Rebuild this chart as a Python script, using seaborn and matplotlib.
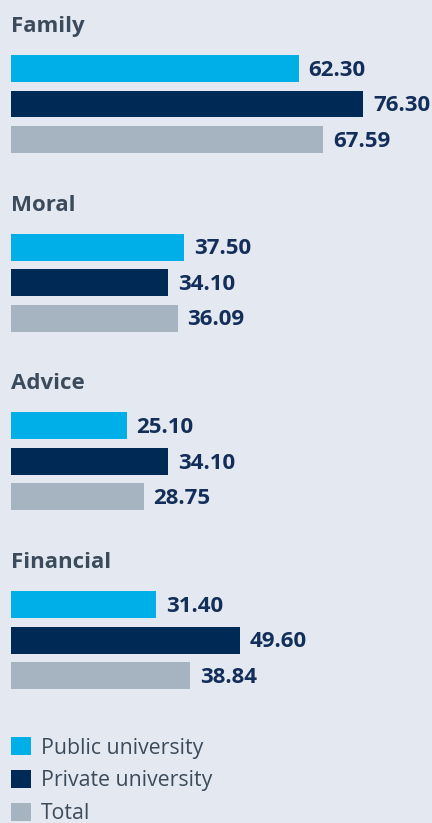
import matplotlib
matplotlib.use("Agg")
import matplotlib.pyplot as plt
from matplotlib.patches import Patch
import seaborn as sns
import pandas as pd

categories = ["Family", "Moral", "Advice", "Financial"]
series = ["Public university", "Private university", "Total"]
public = [62.30, 37.50, 25.10, 31.40]
private = [76.30, 34.10, 34.10, 49.60]
total = [67.59, 36.09, 28.75, 38.84]

colors = ["#00AEE8", "#002A56", "#A6B3C1"]
bg = "#E4E9F1"
title_color = "#3C4B5B"
value_color = "#142E5A"

sns.set_theme(style="white")
plt.rcParams["font.family"] = ["Open Sans", "DejaVu Sans"]

rows = []
for i, c in enumerate(categories):
    for s, vals in zip(series, [public, private, total]):
        rows.append({"category": c, "series": s, "value": vals[i]})
df = pd.DataFrame(rows)

W, H = 432, 823
fig = plt.figure(figsize=(W / 100, H / 100), dpi=100)
fig.patch.set_facecolor(bg)

scale = 4.617  # px per unit
x0 = 11
group_pitch = 178.7
slot = 35.5
first_center = 68.5

for i, c in enumerate(categories):
    top = first_center - slot / 2 + i * group_pitch
    h = 3 * slot
    ax = fig.add_axes([x0 / W, 1 - (top + h) / H, (W - x0) / W, h / H])
    sub = df[df["category"] == c]
    sns.barplot(data=sub, x="value", y="series", hue="series", order=series,
                hue_order=series, palette=colors, orient="h", width=0.76,
                legend=False, ax=ax, saturation=1, edgecolor="none",
                linewidth=0)
    ax.set_xlim(0, (W - x0) / scale)
    ax.set_ylim(2.5, -0.5)
    ax.set_facecolor("none")
    for sp in ax.spines.values():
        sp.set_visible(False)
    ax.set_xticks([])
    ax.set_yticks([])
    ax.set_xlabel("")
    ax.set_ylabel("")
    for cont in ax.containers:
        anns = ax.bar_label(cont, fmt="%.2f", padding=7, fontsize=16,
                            fontweight="bold", color=value_color)
        for a in anns:
            a.xyann = (7, -1.2)
    fig.text(x0 / W, 1 - (top + slot / 2 - 13.5 - 23) / H, c, fontsize=16,
             fontweight="bold", color=title_color, va="baseline", ha="left")

handles = [Patch(facecolor=col, edgecolor="none") for col in colors]
fig.legend(handles, series, loc="upper left",
           bbox_to_anchor=(x0 / W, 1 - 737 / H), frameon=False,
           fontsize=15.3, handlelength=0.96, handleheight=0.96,
           handletextpad=0.45, labelspacing=0.53, borderpad=0,
           borderaxespad=0, labelcolor=title_color)

fig.savefig("out.png", dpi=100, facecolor=bg)
